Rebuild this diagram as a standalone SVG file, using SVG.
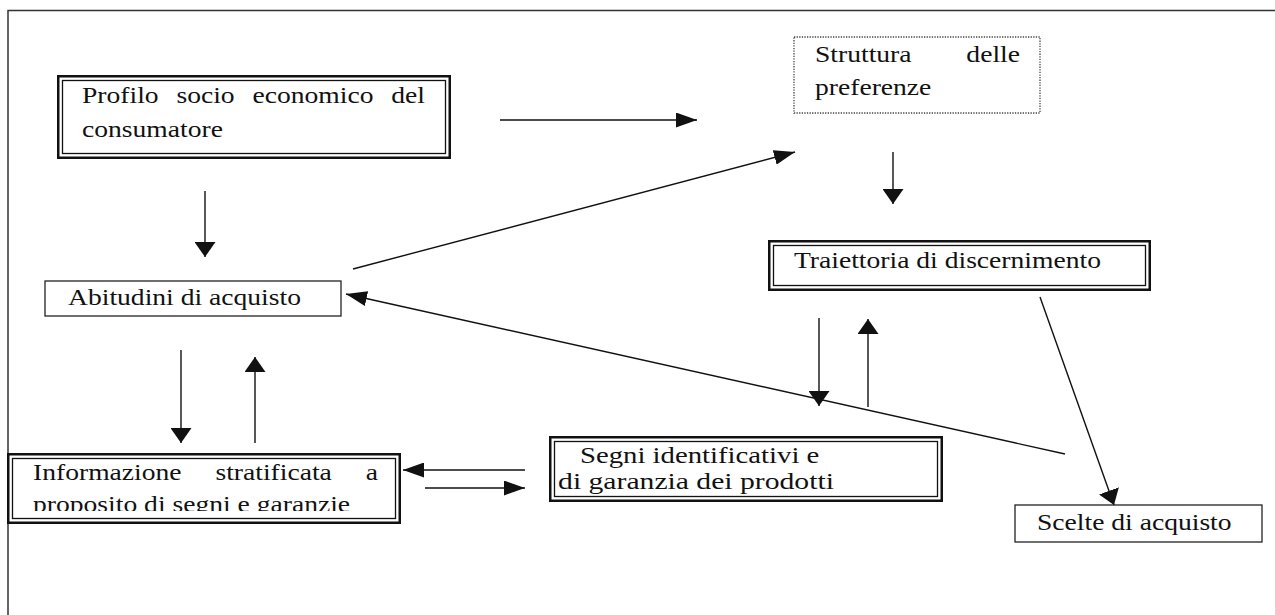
<svg xmlns="http://www.w3.org/2000/svg" width="1275" height="615" viewBox="0 0 1275 615">
<style>
.t{font-family:"Liberation Serif","Times New Roman",serif;font-size:23px;fill:#111}
.o{fill:#fff;stroke:#111;stroke-width:2.5}
.i{fill:none;stroke:#111;stroke-width:1.3}
.s{fill:#fff;stroke:#222;stroke-width:1.3}
.d{fill:#fff;stroke:#444;stroke-width:1.3;stroke-dasharray:1.3 1.3}
.c{fill:none;stroke:#111;stroke-width:1.4}
</style>
<defs>
<marker id="ah" markerUnits="userSpaceOnUse" markerWidth="21" markerHeight="15" refX="21" refY="7.5" orient="auto"><path d="M0,0 L21,7.5 L0,15 z" fill="#111"/></marker>
<marker id="av" markerUnits="userSpaceOnUse" markerWidth="15" markerHeight="21" refX="15" refY="10.5" orient="auto"><path d="M0,0 L15,10.5 L0,21 z" fill="#111"/></marker>
<clipPath id="clipInfo"><rect x="8" y="453" width="394" height="58"/></clipPath>
</defs>
<rect width="1275" height="615" fill="#fff"/>
<path d="M8,615 L8,10.5 L1275,10.5" fill="none" stroke="#333" stroke-width="1.5"/>

<g id="profilo">
<rect class="o" x="58.25" y="76.25" width="391.5" height="81.5"/>
<rect class="i" x="62.5" y="80.5" width="383" height="73"/>
<text class="t" transform="scale(1.2 1)" y="103"><tspan x="68.33">Profilo</tspan><tspan x="147.03">socio</tspan><tspan x="210.38">economico</tspan><tspan x="326.08">del</tspan></text>
<text class="t" transform="scale(1.2 1)" x="68.33" y="137">consumatore</text>
</g>

<g id="struttura">
<rect class="d" x="794" y="37" width="246" height="76"/>
<text class="t" transform="scale(1.2 1)" y="62"><tspan x="679.17">Struttura</tspan><tspan x="805.3">delle</tspan></text>
<text class="t" transform="scale(1.2 1)" x="679.17" y="95">preferenze</text>
</g>

<g id="traiettoria">
<rect class="o" x="769.25" y="241.25" width="380.5" height="48.5"/>
<rect class="i" x="773.5" y="245.5" width="372" height="40"/>
<text class="t" transform="scale(1.2 1)" x="661.67" y="268">Traiettoria di discernimento</text>
</g>

<g id="abitudini">
<rect class="s" x="45" y="281" width="296" height="35"/>
<text class="t" transform="scale(1.2 1)" x="56.67" y="305">Abitudini di acquisto</text>
</g>

<g id="informazione">
<rect class="o" x="8.25" y="454.25" width="391.5" height="68.5"/>
<rect class="i" x="12.5" y="458.5" width="383" height="60"/>
<g clip-path="url(#clipInfo)">
<text class="t" transform="scale(1.2 1)" y="480"><tspan x="27.5">Informazione</tspan><tspan x="179.55">stratificata</tspan><tspan x="304.8">a</tspan></text>
<text class="t" transform="scale(1.2 1)" x="27.5" y="512">proposito di segni e garanzie</text>
</g>
</g>

<g id="segni">
<rect class="o" x="550.25" y="437.25" width="391.5" height="63.5"/>
<rect class="i" x="554.5" y="441.5" width="383" height="55"/>
<text class="t" transform="scale(1.25 1)" x="464" y="463">Segni identificativi e</text>
<text class="t" transform="scale(1.29 1)" x="432.6" y="489">di garanzia dei prodotti</text>
</g>

<g id="scelte">
<rect class="s" x="1015" y="505" width="247" height="37"/>
<text class="t" transform="scale(1.2 1)" x="864.17" y="530">Scelte di acquisto</text>
</g>

<g id="connectors">
<line class="c" x1="500" y1="120" x2="697" y2="120" marker-end="url(#ah)"/>
<line class="c" x1="353" y1="269" x2="795" y2="152" marker-end="url(#ah)"/>
<line class="c" x1="893" y1="152" x2="893" y2="204" marker-end="url(#av)"/>
<line class="c" x1="205" y1="191" x2="205" y2="257" marker-end="url(#av)"/>
<line class="c" x1="181" y1="350" x2="181" y2="443" marker-end="url(#av)"/>
<line class="c" x1="255" y1="443" x2="255" y2="357" marker-end="url(#av)"/>
<line class="c" x1="525" y1="470" x2="403" y2="470" marker-end="url(#ah)"/>
<line class="c" x1="425" y1="488" x2="525" y2="488" marker-end="url(#ah)"/>
<line class="c" x1="819" y1="318" x2="819" y2="406" marker-end="url(#av)"/>
<line class="c" x1="868" y1="407" x2="868" y2="319" marker-end="url(#av)"/>
<line class="c" x1="1065" y1="454" x2="346" y2="294" marker-end="url(#ah)"/>
<line class="c" x1="1040" y1="297" x2="1114" y2="505" marker-end="url(#av)"/>
</g>
</svg>
